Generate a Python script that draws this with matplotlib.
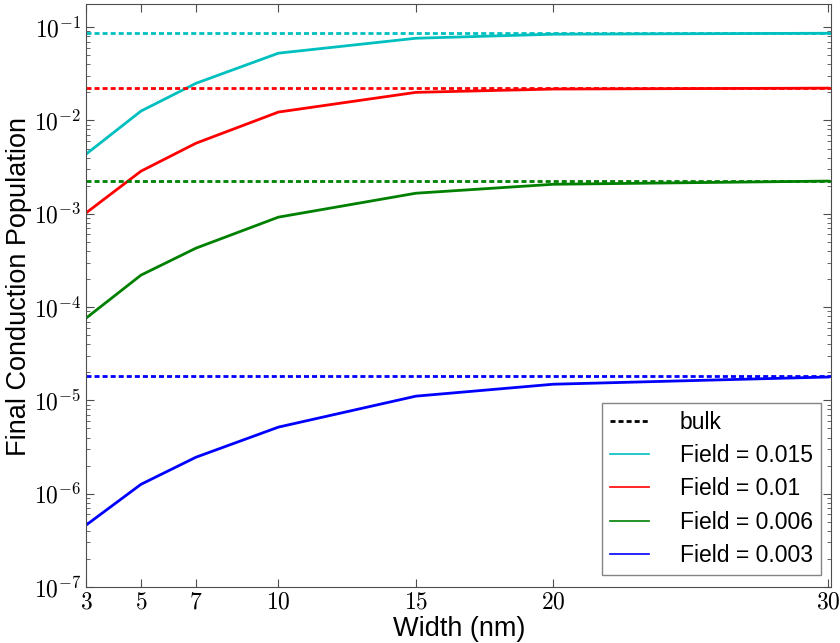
import matplotlib
matplotlib.use('Agg')
import matplotlib.pyplot as plt
from matplotlib.lines import Line2D
from matplotlib.ticker import FuncFormatter
import numpy as np

plt.rcParams['mathtext.fontset'] = 'cm'
plt.rcParams['font.family'] = ['Liberation Sans', 'DejaVu Sans']
plt.rcParams['lines.scale_dashes'] = False

# widths (nm)
widths = [3, 5, 7, 10, 15, 20, 30]

# final conduction population for each field
pop_015 = [4.35e-3, 1.26e-2, 2.5e-2, 5.26e-2, 7.6e-2, 8.4e-2, 8.6e-2]
pop_010 = [1.02e-3, 2.86e-3, 5.7e-3, 1.23e-2, 2.0e-2, 2.17e-2, 2.22e-2]
pop_006 = [7.6e-5, 2.2e-4, 4.28e-4, 9.2e-4, 1.66e-3, 2.07e-3, 2.24e-3]
pop_003 = [4.6e-7, 1.26e-6, 2.46e-6, 5.17e-6, 1.11e-5, 1.49e-5, 1.78e-5]

# bulk values
bulk = [8.6e-2, 2.22e-2, 2.24e-3, 1.82e-5]

fields = ['0.015', '0.01', '0.006', '0.003']
colors = ['c', 'r', 'g', 'b']
series = [pop_015, pop_010, pop_006, pop_003]

fig = plt.figure(figsize=(8.4, 6.43), dpi=100)
ax = fig.add_axes([86/840, 1-587/643, (831-86)/840, (587-4)/643])

for s, b, c in zip(series, bulk, colors):
    ax.axhline(b, color=c, lw=2, ls='--', dashes=(3.6, 2.2))
    ax.plot(widths, s, color=c, lw=2)

ax.set_yscale('log')
ax.set_xlim(3, 30.1)
ax.set_ylim(1e-7, 0.177)
ax.set_xticks(widths)
ax.set_xticklabels([r'$%d$' % w for w in widths])
ax.yaxis.set_major_formatter(FuncFormatter(lambda v, p: r'$10^{%d}$' % round(np.log10(v))))

ax.tick_params(which='both', direction='in', top=True, right=True, labelsize=17, color='0.3')
ax.tick_params(which='major', length=6)
ax.tick_params(which='minor', length=3)
ax.tick_params(axis='x', pad=3)
for sp in ax.spines.values():
    sp.set_color('0.3')

ax.set_xlabel('Width (nm)', fontsize=19.5)
ax.set_ylabel('Final Conduction Population', fontsize=19.5)
ax.xaxis.set_label_coords(0.501, -0.05)
ax.yaxis.set_label_coords(-0.072, 0.515)

handles = [Line2D([], [], color='k', ls='--', lw=2, dashes=(3.6, 2.2))]
labels = ['bulk']
for f, c in zip(fields, colors):
    handles.append(Line2D([], [], color=c, lw=1.2))
    labels.append('Field = ' + f)
leg = ax.legend(handles, labels, loc='lower right', fontsize=16.5, fancybox=False,
                handlelength=1.7, handletextpad=1.35, borderpad=0.35, labelspacing=0.45,
                borderaxespad=0, bbox_to_anchor=(0.9866, 0.0206))
leg.get_frame().set_edgecolor('0.4')
leg.get_frame().set_linewidth(1.0)

fig.savefig('out.png', dpi=100)
